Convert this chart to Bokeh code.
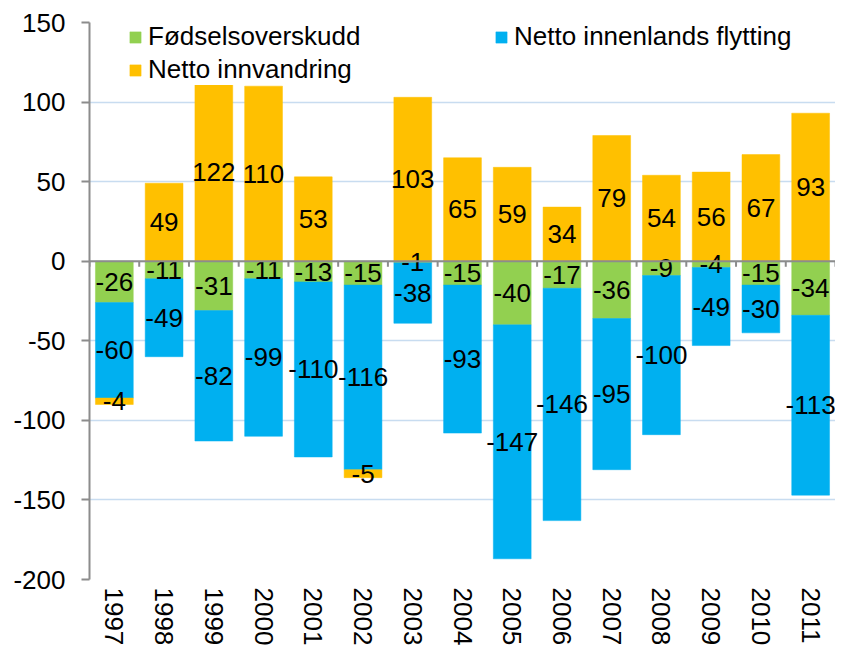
import math
from bokeh.plotting import figure
from bokeh.models import (Range1d, FixedTicker, Span, Legend, LegendItem,
                          ColumnDataSource)
from bokeh.core.properties import value
from bokeh.embed import file_html
from bokeh.resources import INLINE

# ---- data ----
years = ["1997", "1998", "1999", "2000", "2001", "2002", "2003", "2004",
         "2005", "2006", "2007", "2008", "2009", "2010", "2011"]
fodsel = [-26, -11, -31, -11, -13, -15, -1, -15, -40, -17, -36, -9, -4, -15, -34]
innenlands = [-60, -49, -82, -99, -110, -116, -38, -93, -147, -146, -95, -100, -49, -30, -113]
innvandring = [-4, 49, 112, 110, 53, -5, 103, 65, 59, 34, 79, 54, 56, 67, 93]
innvandring_labels = ["-4", "49", "122", "110", "53", "-5", "103", "65", "59",
                      "34", "79", "54", "56", "67", "93"]
y_ticks = [-200, -150, -100, -50, 0, 50, 100, 150]

series_names = ["Fødselsoverskudd", "Netto innenlands flytting", "Netto innvandring"]
series_vals = [fodsel, innenlands, innvandring]
series_labels = [[str(v) for v in fodsel], [str(v) for v in innenlands], innvandring_labels]
colors = ["#92D050", "#00B0F0", "#FFC000"]

FONT = "Liberation Sans"
FS = "26px"
xs = list(range(len(years)))

p = figure(width=835, height=648, output_backend="svg", toolbar_location=None,
           x_range=Range1d(-0.5, len(years) - 0.5), y_range=Range1d(-200, 150),
           min_border_left=89, min_border_right=0, min_border_top=22,
           min_border_bottom=62)
p.outline_line_color = None
p.xgrid.visible = False
p.ygrid.grid_line_color = "#C8DCF0"
p.ygrid.grid_line_width = 1.5
p.ygrid.ticker = FixedTicker(ticks=y_ticks)

# y axis
p.yaxis.ticker = FixedTicker(ticks=y_ticks)
p.yaxis.major_label_overrides = {v: str(v) for v in y_ticks}
p.yaxis.axis_line_color = "#8C8C8C"
p.yaxis.axis_line_width = 2
p.yaxis.major_tick_line_color = "#8C8C8C"
p.yaxis.major_tick_line_width = 2
p.yaxis.major_tick_out = 8
p.yaxis.major_tick_in = 0
p.yaxis.minor_tick_line_color = None
p.yaxis.major_label_standoff = 16
p.yaxis.major_label_text_font = FONT
p.yaxis.major_label_text_font_size = FS
p.yaxis.major_label_text_color = "black"

# x axis (labels only)
p.xaxis.ticker = FixedTicker(ticks=xs)
p.xaxis.major_label_overrides = {i: y for i, y in enumerate(years)}
p.xaxis.axis_line_color = None
p.xaxis.major_tick_line_color = None
p.xaxis.minor_tick_line_color = None
p.xaxis.major_label_orientation = -math.pi / 2
p.xaxis.major_label_standoff = 2
p.xaxis.major_label_text_font = FONT
p.xaxis.major_label_text_font_size = FS
p.xaxis.major_label_text_color = "black"

# stacked bars with separate positive / negative stacking
pos = [0.0] * len(years)
neg = [0.0] * len(years)
renderers = []
label_x, label_y, label_t = [], [], []
for name, vals, labs, col in zip(series_names, series_vals, series_labels, colors):
    bottoms, tops = [], []
    for i, v in enumerate(vals):
        if v >= 0:
            b, t = pos[i], pos[i] + v
            pos[i] = t
        else:
            b, t = neg[i] + v, neg[i]
            neg[i] = b
        bottoms.append(b)
        tops.append(t)
        label_x.append(i)
        label_y.append((b + t) / 2)
        label_t.append(labs[i])
    src = ColumnDataSource(dict(x=xs, top=tops, bottom=bottoms))
    r = p.vbar(x="x", top="top", bottom="bottom", width=0.76, source=src,
               fill_color=col, line_color=col, line_width=0.5)
    renderers.append((name, r))

# zero axis line with category ticks
p.add_layout(Span(location=0, dimension="width", line_color="#8C8C8C", line_width=2))
bounds = [i - 0.5 for i in range(len(years) + 1)]
p.segment(x0=bounds, x1=bounds, y0=[0] * len(bounds), y1=[-3.5] * len(bounds),
          line_color="#8C8C8C", line_width=2)

# data labels
p.text(x=label_x, y=label_y, text=label_t, text_align="center",
       text_baseline="middle", text_font=value(FONT), text_font_size=FS,
       text_color="black")

# legend
items = [LegendItem(label=n, renderers=[r]) for n, r in renderers]
legend = Legend(items=items, orientation="horizontal", ncols=2,
                location=(39, 494), label_text_font=FONT,
                label_text_font_size=FS, label_text_color="black",
                glyph_width=14, glyph_height=14, label_standoff=6,
                label_width=344, spacing=2, padding=2, margin=0,
                border_line_color=None, background_fill_color="white",
                background_fill_alpha=1.0)
p.add_layout(legend, "center")

open("out.html", "w").write(file_html(p, INLINE))
